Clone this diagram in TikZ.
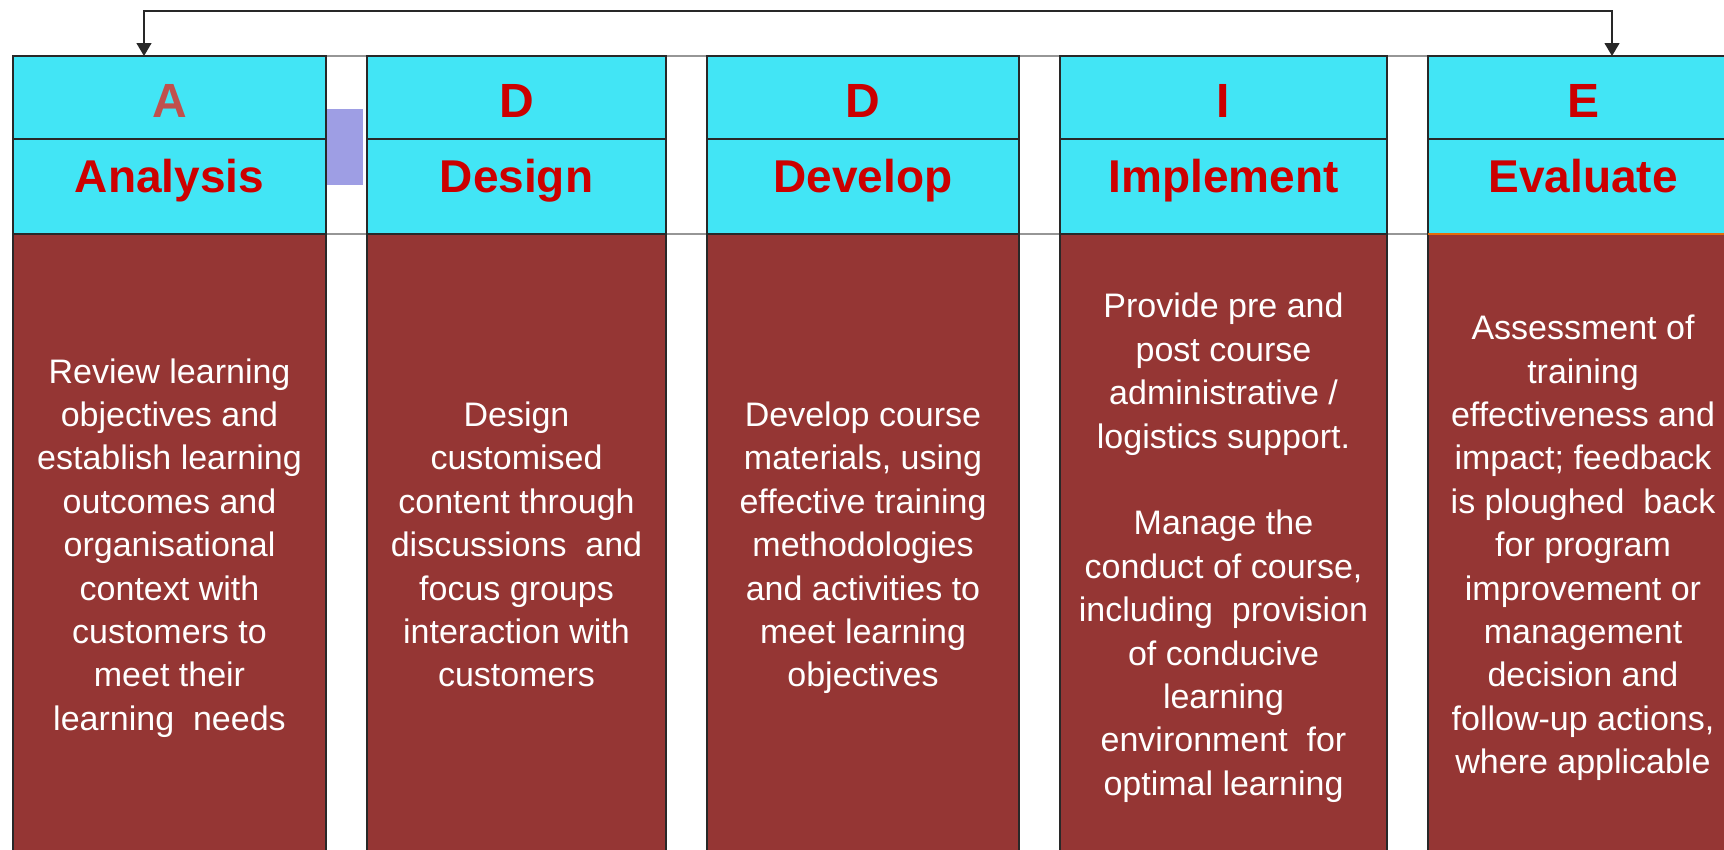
\documentclass[tikz,border=0pt]{standalone}
\usepackage{fontspec}
\setmainfont{Liberation Sans}
\usetikzlibrary{arrows.meta}
\definecolor{cyanc}{RGB}{66,229,245}
\definecolor{bodyc}{RGB}{149,54,52}
\definecolor{redc}{RGB}{204,0,0}
\definecolor{lightred}{RGB}{192,80,77}
\definecolor{purplec}{RGB}{158,158,228}
\definecolor{linec}{RGB}{40,40,40}
\definecolor{gapc}{RGB}{150,150,150}
\definecolor{orangec}{RGB}{228,108,10}
\begin{document}
\begin{tikzpicture}[x=1pt,y=-1pt,
  cellbase/.style={rectangle, draw=linec, line width=1.4pt, anchor=north west, inner sep=0pt, outer sep=0pt},
  letter/.style={cellbase, fill=cyanc, minimum height=83pt, font=\fontsize{48}{50}\selectfont\bfseries, text=redc, text height=39pt, text depth=0pt},
  phase/.style={cellbase, fill=cyanc, minimum height=95pt, font=\fontsize{46}{50}\selectfont\bfseries, text=redc, text height=33pt, text depth=21pt},
  body/.style={cellbase, fill=bodyc, minimum height=628pt, font=\fontsize{34}{43.4}\selectfont, text=white, align=center},
  gapline/.style={gapc, line width=1.2pt},
  conn/.style={linec, line width=1.3pt, {Triangle[width=15pt,length=13pt]}-{Triangle[width=15pt,length=13pt]}},
]
\useasboundingbox (0,0) rectangle (1724,849);
\clip (0,0) rectangle (1724,849);
\fill[white] (0,0) rectangle (1724,849);

% lines running across the gaps
\draw[gapline] (13,56) -- (1724,56);
\draw[gapline] (13,234) -- (1724,234);

% column A
\node[letter, minimum width=313pt, text=lightred] (hA) at (13,56) {A};
\node[phase, minimum width=313pt] (nA) at (13,139) {Analysis};
\node[body, minimum width=313pt] (bA) at (13,234) {\strut Review learning\\objectives and\\establish learning\\outcomes and\\organisational\\context with\\customers to\\meet their\\learning\ \ needs\strut};

% column Design
\node[letter, minimum width=299pt] (hD) at (367,56) {D};
\node[phase, minimum width=299pt] (nD) at (367,139) {Design};
\node[body, minimum width=299pt] (bD) at (367,234) {\strut Design\\customised\\content through\\discussions\ \ and\\focus groups\\interaction with\\customers\strut};

% column Develop
\node[letter, minimum width=312pt] (hV) at (707,56) {D};
\node[phase, minimum width=312pt] (nV) at (707,139) {Develop};
\node[body, minimum width=312pt] (bV) at (707,234) {\strut Develop course\\materials, using\\effective training\\methodologies\\and activities to\\meet learning\\objectives\strut};

% column Implement
\node[letter, minimum width=327pt] (hI) at (1060,56) {I};
\node[phase, minimum width=327pt] (nI) at (1060,139) {Implement};
\node[body, minimum width=327pt] (bI) at (1060,234) {\strut Provide pre and\\post course\\administrative /\\logistics support.\\[43.4pt]Manage the\\conduct of course,\\including\ \ provision\\of conducive\\learning\\environment\ \ for\\optimal learning\strut};

% column Evaluate
\node[letter, minimum width=310pt] (hE) at (1428,56) {E};
\node[phase, minimum width=310pt] (nE) at (1428,139) {Evaluate};
\node[body, minimum width=310pt] (bE) at (1428,234) {\strut Assessment of\\training\\effectiveness and\\impact; feedback\\is ploughed\ \ back\\for program\\improvement or\\management\\decision and\\follow-up actions,\\where applicable\strut};
\draw[orangec, line width=1.4pt] (nE.south west) -- (nE.south east);

% small purple marker in the first gap
\fill[purplec] (327,109) rectangle (363,185);

% feedback connector from Evaluate back to Analysis
\coordinate (topL) at (144,11);
\coordinate (topR) at (1612,11);
\draw[conn] (topL |- hA.north) -- (topL) -- (topR) -- (topR |- hE.north);
\end{tikzpicture}
\end{document}
